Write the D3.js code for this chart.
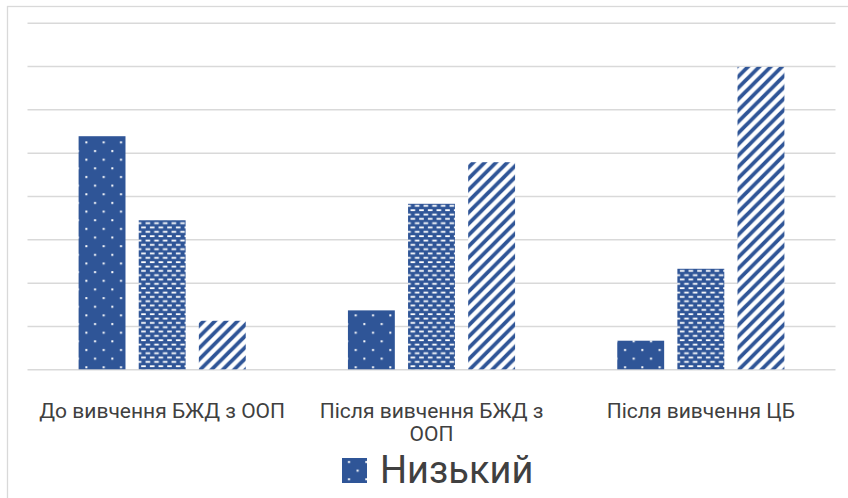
<!DOCTYPE html>
<html>
<head>
<meta charset="utf-8">
<script src="https://cdn.jsdelivr.net/npm/d3@7"></script>
<style>
  body { margin: 0; background: #fff; }
  svg { display: block; font-family: Roboto, "Noto Sans", sans-serif; }
</style>
</head>
<body>
<div id="chart"></div>
<script>
// Grouped bar chart: levels before / after the courses (patterned bars, Excel style)

const groups = ["До вивчення БЖД з ООП", "Після вивчення БЖД з ООП", "Після вивчення ЦБ"];
const series = ["Низький", "Середній", "Високий"];
const nyzkyi   = [26.9, 6.8, 3.3];
const serednii = [17.2, 19.1, 11.6];
const vysokyi  = [5.6, 23.9, 34.9];
const yTicks = [0, 5, 10, 15, 20, 25, 30, 35, 40];

const width = 848, height = 498;
const margin = {top: 22.7, right: 12.5, bottom: 128.7, left: 27.5};
const blue = "#2f5597";

const svg = d3.select("#chart")
  .append("svg")
  .attr("width", width)
  .attr("height", height);

const seriesValues = [nyzkyi, serednii, vysokyi];
const data = groups.map((g, i) => ({
  group: g,
  values: series.map((s, j) => ({key: s, value: seriesValues[j][i]}))
}));

// fill patterns, one per series
const defs = svg.append("defs");

// small white dots
const dots = defs.append("pattern")
  .attr("id", "pat-0")
  .attr("patternUnits", "userSpaceOnUse")
  .attr("width", 17.3).attr("height", 17.3);
dots.append("rect").attr("width", 17.3).attr("height", 17.3).attr("fill", blue);
dots.append("rect").attr("x", 6).attr("y", 3).attr("width", 2).attr("height", 2).attr("fill", "#fff");
dots.append("rect").attr("x", 14.65).attr("y", 11.65).attr("width", 2).attr("height", 2).attr("fill", "#fff");

// white dashes, brick layout
const bricks = defs.append("pattern")
  .attr("id", "pat-1")
  .attr("patternUnits", "userSpaceOnUse")
  .attr("width", 8.67).attr("height", 8.67);
bricks.append("rect").attr("width", 8.67).attr("height", 8.67).attr("fill", blue);
bricks.append("rect").attr("x", 1).attr("y", 1.2).attr("width", 4.6).attr("height", 1.8).attr("fill", "#fff");
bricks.append("rect").attr("x", 5.33).attr("y", 5.53).attr("width", 3.34).attr("height", 1.8).attr("fill", "#fff");
bricks.append("rect").attr("x", 0).attr("y", 5.53).attr("width", 1.26).attr("height", 1.8).attr("fill", "#fff");

// wide upward diagonal  ////
const p = 11.3;
const stripes = defs.append("pattern")
  .attr("id", "pat-2")
  .attr("patternUnits", "userSpaceOnUse")
  .attr("width", p).attr("height", p);
stripes.append("rect").attr("width", p).attr("height", p).attr("fill", "#fff");
stripes.append("path")
  .attr("d", `M${-p / 2},${p / 2} L${p / 2},${-p / 2} M0,${p} L${p},0 M${p / 2},${p * 1.5} L${p * 1.5},${p / 2}`)
  .attr("stroke", blue)
  .attr("stroke-width", 3.8);

// chart area frame (runs off the right and bottom edges)
svg.append("rect")
  .attr("x", 7.5).attr("y", 6.5)
  .attr("width", 900).attr("height", 600)
  .attr("fill", "none")
  .attr("stroke", "#d9d9d9")
  .attr("stroke-width", 1.3);

const x0 = d3.scaleBand()
  .domain(groups)
  .range([margin.left, width - margin.right]);

const x1 = d3.scaleBand()
  .domain(series)
  .range([0, x0.bandwidth()])
  .paddingInner(0.22)
  .paddingOuter(0.85);

const y = d3.scaleLinear()
  .domain([0, 40])
  .range([height - margin.bottom, margin.top]);

const color = d3.scaleOrdinal(series, series.map((s, i) => `url(#pat-${i})`));

// gridlines, no tick labels
svg.append("g")
  .attr("transform", `translate(${margin.left},0)`)
  .call(d3.axisLeft(y).tickValues(yTicks).tickSize(-(width - margin.left - margin.right)).tickFormat(""))
  .call(g => g.select(".domain").remove())
  .call(g => g.selectAll(".tick line").attr("stroke", "#d9d9d9").attr("stroke-width", 1.5));

// bars
svg.append("g")
  .selectAll("g")
  .data(data)
  .join("g")
  .attr("transform", d => `translate(${x0(d.group)},0)`)
  .selectAll("rect")
  .data(d => d.values)
  .join("rect")
  .attr("x", d => x1(d.key))
  .attr("y", d => y(d.value))
  .attr("width", x1.bandwidth())
  .attr("height", d => y(0) - y(d.value))
  .attr("fill", d => color(d.key));

// category labels, wrapped to the band width
const xAxis = svg.append("g")
  .attr("transform", `translate(0,${height - margin.bottom})`)
  .call(d3.axisBottom(x0).tickSize(0).tickPadding(0))
  .call(g => g.select(".domain").remove());

xAxis.selectAll(".tick text")
  .attr("fill", "#404040")
  .attr("dy", null)
  .style("font-size", "21px")
  .style("font-family", "Roboto, sans-serif")
  .call(wrap, x0.bandwidth() - 15);

function wrap(text, maxWidth) {
  text.each(function () {
    const t = d3.select(this);
    const words = t.text().split(/\s+/);
    t.text(null);
    let line = [];
    let lineNo = 0;
    let tspan = t.append("tspan").attr("x", 0).attr("y", 49);
    for (const w of words) {
      line.push(w);
      tspan.text(line.join(" "));
      if (tspan.node().getComputedTextLength() > maxWidth && line.length > 1) {
        line.pop();
        tspan.text(line.join(" "));
        line = [w];
        lineNo++;
        tspan = t.append("tspan").attr("x", 0).attr("y", 49 + lineNo * 23).text(w);
      }
    }
  });
}

// legend at the bottom; only the rows that fit inside the picture are shown
const legendTop = 458;
const legendRow = 48;
const legendItems = series.filter((s, i) => legendTop + i * legendRow + 25 <= height);

const legend = svg.append("g")
  .selectAll("g")
  .data(legendItems)
  .join("g")
  .attr("transform", (d, i) => `translate(342,${legendTop + i * legendRow})`);

legend.append("rect")
  .attr("width", 25).attr("height", 25)
  .attr("fill", d => color(d));

legend.append("text")
  .attr("x", 38)
  .attr("y", 25)
  .attr("fill", "#404040")
  .style("font-size", "38px")
  .text(d => d);
</script>
</body>
</html>
